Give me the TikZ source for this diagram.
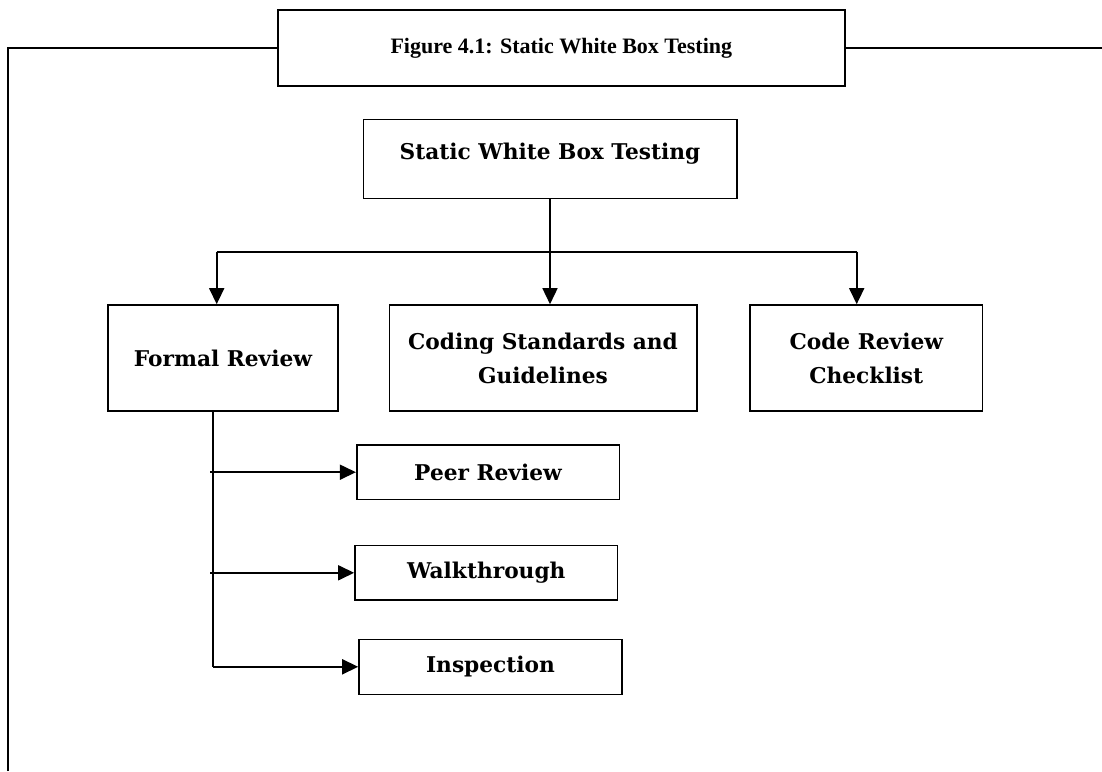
\documentclass[tikz,border=0pt]{standalone}
\usepackage{fontspec}
\usetikzlibrary{arrows.meta}
\newfontfamily\capfont{Liberation Serif}
\newfontfamily\boxfont{DejaVu Serif}
\begin{document}
\begin{tikzpicture}[x=1pt,y=-1pt,
    framebox/.style={draw,line width=2.2pt,inner sep=0pt,align=center,
      font=\capfont\bfseries\fontsize{22}{26}\selectfont},
    diabox/.style={draw,line width=1.6pt,inner sep=0pt,align=center,
      font=\boxfont\bfseries\fontsize{21.7}{34}\selectfont},
    conn/.style={line width=1.6pt},
    arr/.style={conn,-{Triangle[length=16pt,width=15pt]}}]
  \useasboundingbox (0,0) rectangle (1102,771);
  \fill[white] (0,0) rectangle (1102,771);

  % caption box and the frame around the figure
  \node[framebox,minimum width=567pt,minimum height=75.7pt] (cap) at (561.3,47.9)
    {Figure 4.1: Static White Box Testing};
  \coordinate (frameTL) at (8.3,47.9);
  \coordinate (frameBL) at (8.3,771);
  \coordinate (frameR) at (1102,47.9);
  \draw[line width=2.2pt] (frameBL) -- (frameTL) -- (cap.west);
  \draw[line width=2.2pt] (cap.east) -- (frameR);

  % root
  \node[diabox,minimum width=373.4pt,text height=40.3pt,text depth=38.7pt] (root)
    at (550,158.8) {Static White Box Testing};

  % first level
  \node[diabox,minimum width=230pt,minimum height=106pt] (formal) at (223,358)
    {Formal Review};
  \node[diabox,minimum width=307.4pt,minimum height=106pt] (coding) at (543,358)
    {Coding Standards and\\Guidelines};
  \node[diabox,minimum width=232.7pt,minimum height=106pt] (check) at (866.3,358)
    {Code Review\\Checklist};

  % formal review kinds
  \node[diabox,minimum width=262.6pt,minimum height=54.3pt] (peer) at (488,472.2)
    {Peer Review};
  \node[diabox,minimum width=262.7pt,minimum height=54.3pt] (walk) at (486.3,572.8)
    {Walkthrough};
  \node[diabox,minimum width=263pt,minimum height=55pt] (insp) at (490.5,666.8)
    {Inspection};

  % root to first level
  \coordinate (busL) at (216.7,251.7);
  \coordinate (busR) at (856.7,251.7);
  \draw[arr] (root.south) -- (root.south |- coding.north);
  \draw[conn] (busL) -- (busR);
  \draw[arr] (busL) -- (busL |- formal.north);
  \draw[arr] (busR) -- (busR |- check.north);

  % formal review to its kinds
  \coordinate (spine) at (213,411);
  \coordinate (spineL) at (210,411);
  \draw[conn] (spine |- formal.south) -- (spine |- insp.west);
  \draw[arr] (spineL |- peer.west) -- (peer.west);
  \draw[arr] (spineL |- walk.west) -- (walk.west);
  \draw[arr] (spine |- insp.west) -- (insp.west);
\end{tikzpicture}
\end{document}
